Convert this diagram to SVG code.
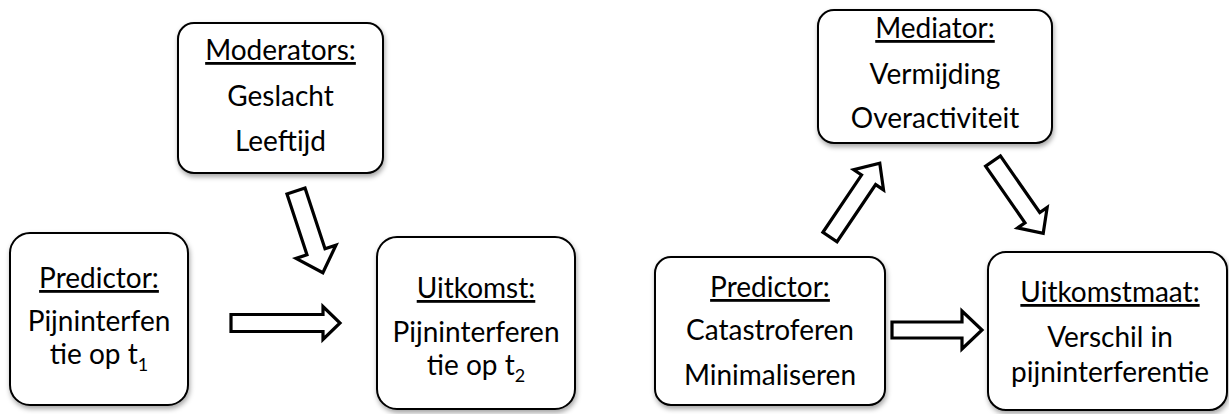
<svg xmlns="http://www.w3.org/2000/svg" width="1229" height="414" viewBox="0 0 1229 414">
<defs>
<filter id="sh" x="-10%" y="-10%" width="130%" height="130%">
<feDropShadow dx="1" dy="3" stdDeviation="2.5" flood-color="#000" flood-opacity="0.35"/>
</filter>
</defs>
<style>
.box{fill:#fff;stroke:#000;stroke-width:2;filter:url(#sh)}
.t{font-family:Lato,"Liberation Sans",sans-serif;font-size:28px;fill:#000;text-anchor:middle}
.h{text-decoration:underline}
.sub{font-size:18px}
.arr{fill:#fff;stroke:#000;stroke-width:3.2;stroke-linejoin:miter}
</style>
<rect width="1229" height="414" fill="#fff"/>
<g id="predictor1">
<rect class="box" x="10" y="233" width="178" height="172" rx="20"/>
<text class="t h" x="99" y="288">Predictor:</text>
<text class="t" x="99" y="331">Pijninterfen</text>
<text class="t" x="99" y="364">tie op t<tspan class="sub" dy="7">1</tspan></text>
</g>
<g id="moderators">
<rect class="box" x="178" y="23" width="205" height="150" rx="16"/>
<text class="t h" x="280.5" y="60">Moderators:</text>
<text class="t" x="280.5" y="106">Geslacht</text>
<text class="t" x="280.5" y="151">Leeftijd</text>
</g>
<g id="uitkomst">
<rect class="box" x="377" y="237" width="198" height="172" rx="20"/>
<text class="t h" x="476" y="298">Uitkomst:</text>
<text class="t" x="476" y="342">Pijninterferen</text>
<text class="t" x="476" y="375">tie op t<tspan class="sub" dy="7">2</tspan></text>
</g>
<g id="predictor2">
<rect class="box" x="655" y="257" width="230" height="148" rx="16"/>
<text class="t h" x="770" y="297">Predictor:</text>
<text class="t" x="770" y="340">Catastroferen</text>
<text class="t" x="770" y="385">Minimaliseren</text>
</g>
<g id="mediator">
<rect class="box" x="818" y="10" width="234" height="133" rx="16"/>
<text class="t h" x="935" y="38">Mediator:</text>
<text class="t" x="935" y="84">Vermijding</text>
<text class="t" x="935" y="128">Overactiviteit</text>
</g>
<g id="uitkomstmaat">
<rect class="box" x="988" y="252" width="239" height="158" rx="18"/>
<text class="t h" x="1110" y="302">Uitkomstmaat:</text>
<text class="t" x="1110" y="347">Verschil in</text>
<text class="t" x="1110" y="382">pijninterferentie</text>
</g>
<g id="connectors">
<polygon class="arr" points="0,-8.5 92,-8.5 92,-16.5 109,0 92,16.5 92,8.5 0,8.5" transform="translate(231,323)"/>
<polygon class="arr" points="0,-9.5 64,-9.5 64,-21 86,0 64,21 64,9.5 0,9.5" transform="translate(296,191) rotate(71.8)"/>
<polygon class="arr" points="0,-8.5 69,-8.5 69,-18 89,0 69,18 69,8.5 0,8.5" transform="translate(830,237) rotate(-56)"/>
<polygon class="arr" points="0,-9 69,-9 69,-18 88,0 69,18 69,9 0,9" transform="translate(993,161) rotate(55.2)"/>
<polygon class="arr" points="0,-8 70,-8 70,-19 90,0 70,19 70,8 0,8" transform="translate(892,330)"/>
</g>
</svg>
